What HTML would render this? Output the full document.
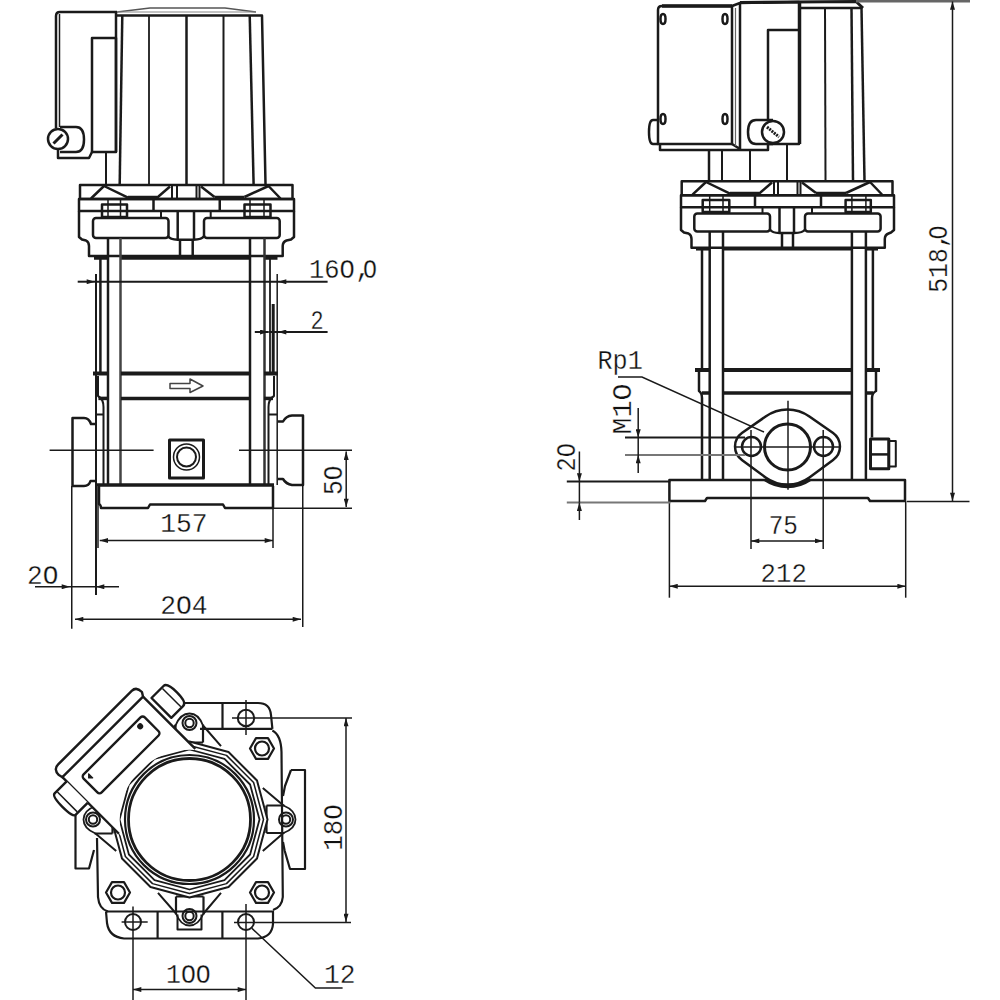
<!DOCTYPE html>
<html><head><meta charset="utf-8">
<style>
html,body{margin:0;padding:0;background:#fff;width:1000px;height:1000px;overflow:hidden}
svg{display:block}
text{font-family:"Liberation Mono",monospace;fill:#111;font-size:27px;stroke:#fff;stroke-width:0.3px}
</style></head><body>
<svg width="1000" height="1000" viewBox="0 0 1000 1000">
<defs>
<marker id="ar" viewBox="0 0 10 6" refX="10" refY="3" markerWidth="9" markerHeight="5" markerUnits="userSpaceOnUse" orient="auto-start-reverse"><path d="M0 0 L10 3 L0 6 z" fill="#1a1a1a"/></marker>
</defs>
<g id="front" fill="none" stroke="#1a1a1a" stroke-width="2.5" stroke-linejoin="round">
<!-- motor cap -->
<path d="M117 12 L150 8 L225 8 L256 12" stroke-width="1.5" stroke="#555"/>
<line x1="117" y1="12" x2="256" y2="12" stroke-width="1.2" stroke="#888"/>
<path d="M116 15.5 L262 15.5 L265.5 184"/>
<line x1="116" y1="12" x2="116" y2="152"/>
<line x1="122.3" y1="15" x2="119.7" y2="184"/>
<line x1="149" y1="15" x2="149" y2="184" stroke-width="1.8"/>
<line x1="186.5" y1="15" x2="186.5" y2="184"/>
<line x1="223.5" y1="15" x2="223.5" y2="184" stroke-width="2"/>
<line x1="249.7" y1="15" x2="253.6" y2="184"/>
<!-- terminal box -->
<path d="M117 12 L60 12 Q56 12 56 16 L56 128"/>
<line x1="59.5" y1="14" x2="59.5" y2="127" stroke-width="1.5"/>
<rect x="92" y="38" width="24" height="114"/>
<path d="M60 127 L76 127 Q84 127 84 139.5 Q84 152 76 152 L60 152"/>
<circle cx="58" cy="139" r="10" fill="#fff"/>
<line x1="53.5" y1="143.5" x2="62.5" y2="134.5" stroke-width="3"/>
<path d="M58 150 L58 158 L89 158 L92 152"/>
<line x1="106" y1="152" x2="106" y2="184" stroke-width="2"/>
<!-- flange -->
<rect x="80" y="185" width="212.5" height="14"/>
<rect x="79" y="199" width="215" height="12"/>
<line x1="153.5" y1="199" x2="153.5" y2="211"/>
<line x1="219.75" y1="199" x2="219.75" y2="211"/>
<path d="M79 211 L79 237 L82 239.5 L86 240.5 Q89 242 89 246 L89 256 L282.7 256 L282.7 246 Q282.7 242 286.5 240.5 L291 239.5 L294 237 L294 211"/>
<path d="M91 198.5 L104 186 L128 197.7"/>
<line x1="128" y1="197.5" x2="157" y2="197.5" stroke-width="3.5"/>
<path d="M157 197.7 L170 186.5"/>
<line x1="172" y1="185" x2="172" y2="199" stroke-width="2"/>
<line x1="177" y1="185" x2="177" y2="199" stroke-width="2"/>
<line x1="196.5" y1="185" x2="196.5" y2="199" stroke-width="2"/>
<line x1="199.5" y1="185" x2="199.5" y2="199" stroke-width="2"/>
<path d="M201 186.5 L214.5 197"/>
<line x1="214.5" y1="197.5" x2="244.5" y2="197.5" stroke-width="3.5"/>
<path d="M244.5 197 L268.5 186 L280.5 198.5"/>
<rect x="102" y="204.5" width="25" height="12.5"/>
<rect x="244.5" y="204.5" width="26" height="12.5"/>
<line x1="108" y1="199" x2="108" y2="217" stroke-width="1.5"/>
<line x1="120.5" y1="199" x2="120.5" y2="217" stroke-width="1.5"/>
<line x1="250" y1="199" x2="250" y2="217" stroke-width="1.5"/>
<line x1="264" y1="199" x2="264" y2="217" stroke-width="1.5"/>
<rect x="93" y="218" width="75.5" height="20" rx="3"/>
<rect x="204" y="218" width="75.7" height="20" rx="3"/>
<line x1="161" y1="211" x2="161" y2="218" stroke-width="2"/>
<line x1="210.7" y1="211" x2="210.7" y2="218" stroke-width="2"/>
<path d="M168 236 Q170 239.7 177.7 239.7 L193.5 239.7 Q202 239.7 204 236"/>
<line x1="177.7" y1="211" x2="177.7" y2="239.7"/>
<line x1="194" y1="211" x2="194" y2="239.7"/>
<line x1="180" y1="239.7" x2="180" y2="256"/>
<line x1="192.7" y1="239.7" x2="192.7" y2="256"/>
<line x1="94" y1="258" x2="108" y2="258" stroke-width="3.5"/>
<line x1="121" y1="258" x2="250" y2="258" stroke-width="3.5"/>
<line x1="264" y1="258" x2="277.5" y2="258" stroke-width="3.5"/>
<!-- tie rods -->
<line x1="108" y1="238" x2="108" y2="485"/>
<line x1="120.5" y1="238" x2="120.5" y2="485" stroke="#444"/>
<line x1="250" y1="238" x2="250" y2="485"/>
<line x1="264.5" y1="238" x2="264.5" y2="485" stroke="#333"/>
<!-- body -->
<line x1="100.4" y1="258" x2="100.4" y2="373"/>
<line x1="96" y1="274" x2="96" y2="595" stroke-width="2"/>
<line x1="270" y1="258" x2="270" y2="373" stroke-width="1.8"/>
<line x1="273.2" y1="304" x2="273.2" y2="373" stroke-width="3"/>
<line x1="277.2" y1="274" x2="277.2" y2="485" stroke-width="1.5"/>
<line x1="93" y1="373.5" x2="108" y2="373.5" stroke-width="4"/>
<line x1="121" y1="373.5" x2="250" y2="373.5" stroke-width="4"/>
<line x1="264" y1="373.5" x2="278" y2="373.5" stroke-width="4"/>
<line x1="98.4" y1="398.4" x2="108" y2="398.4" stroke-width="3.5"/>
<line x1="121" y1="398.4" x2="250" y2="398.4" stroke-width="3.5"/>
<line x1="264" y1="398.4" x2="273" y2="398.4" stroke-width="3.5"/>
<path d="M98 376 L98 396 Q103.5 399 103.5 407 L103.5 414.5 M96 414.5 L103.5 414.5 L103.5 485" stroke-width="2"/>
<path d="M274 376 L274 396 Q268.5 399 268.5 407 L268.5 414.5 M268.5 414.5 L277 414.5 M268.5 414.5 L268.5 485" stroke-width="2"/>
<path d="M170 383.5 L190 383.5 L190 379 L203 386 L190 392.5 L190 388.5 L170 388.5 Z" stroke-width="1.5" stroke="#444"/>
<rect x="169.5" y="440" width="34" height="38" stroke-width="3"/>
<circle cx="186.5" cy="457" r="9.5" stroke-width="2"/>
<circle cx="186.5" cy="457" r="13" stroke-width="1.5"/>
<line x1="96" y1="485" x2="274" y2="485" stroke-width="3.5"/>
<path d="M99 486 L99 504 Q101 505 101 508 L148 508 L150 504.5 L223 504.5 L225 508 L273 508 L273 486"/>
<path d="M95 424 L91 424 Q89 418 84 418 L72.5 418 L72.5 486 L84 486 Q89 486 90.5 481 L95 481"/>
<path d="M278 421.5 L283 421.5 Q286 416 292 415.5 L303 415.5 L303 485 L292 485 Q286 484 283 479 L278 479"/>
</g>
<g id="frontdims" fill="none" stroke="#1a1a1a" stroke-width="1.5">
<line x1="49.6" y1="450.3" x2="153.6" y2="450.3"/>
<line x1="239" y1="450.3" x2="352" y2="450.3"/>
<line x1="77.7" y1="281.7" x2="95" y2="281.7" marker-end="url(#ar)" stroke-width="2"/>
<line x1="95" y1="281.7" x2="278" y2="281.7" stroke-width="2"/>
<line x1="327.6" y1="281.7" x2="278" y2="281.7" marker-end="url(#ar)" stroke-width="2"/>
<line x1="254.8" y1="332" x2="268.4" y2="332" marker-end="url(#ar)" stroke-width="2"/>
<line x1="327.6" y1="332" x2="278" y2="332" marker-end="url(#ar)" stroke-width="2"/>
<line x1="268.4" y1="332" x2="278" y2="332" stroke-width="2"/>
<line x1="346.2" y1="451.6" x2="346.2" y2="507" marker-start="url(#ar)" marker-end="url(#ar)"/>
<line x1="272" y1="508.3" x2="352" y2="508.3"/>
<line x1="98" y1="487" x2="98" y2="548"/>
<line x1="273" y1="508" x2="273" y2="548"/>
<line x1="99.75" y1="540.5" x2="273" y2="540.5" marker-start="url(#ar)" marker-end="url(#ar)"/>
<line x1="35" y1="586.75" x2="70" y2="586.75" marker-end="url(#ar)"/>
<line x1="70" y1="586.75" x2="96" y2="586.75"/>
<line x1="119" y1="586.75" x2="96" y2="586.75" marker-end="url(#ar)"/>
<line x1="71.75" y1="486" x2="71.75" y2="628.75"/>
<line x1="302.75" y1="485" x2="302.75" y2="627"/>
<line x1="75" y1="619.3" x2="301" y2="619.3" marker-start="url(#ar)" marker-end="url(#ar)"/>
</g>

<g id="side" fill="none" stroke="#1a1a1a" stroke-width="2.5" stroke-linejoin="round">
<!-- motor -->
<path d="M740 2.5 L856 1.5 L863 8" stroke-width="3"/>
<line x1="800" y1="8" x2="862" y2="8"/>
<line x1="800" y1="2" x2="800" y2="144"/>
<line x1="825" y1="8" x2="825.5" y2="181" stroke-width="2"/>
<line x1="851.5" y1="8" x2="853" y2="181"/>
<line x1="861.5" y1="8" x2="864.5" y2="181"/>
<!-- terminal box -->
<path d="M658 144 L658 10 Q658 6 662 6 L732 6 L732 144 Z"/>
<line x1="662" y1="6" x2="732" y2="6" stroke-width="3.5"/>
<path d="M732 6 L740 3 L740 149 L732 144"/>
<line x1="735.5" y1="8" x2="735.5" y2="146" stroke-width="1.2" stroke="#666"/>
<path d="M740 3 L799 2 L799 144 L768 144"/>
<path d="M660 144 L660 150 L768 150 L768 144"/>
<path d="M799 30 L768 30 L768 120"/>
<path d="M773 120 L756 120 Q748 120 748 132 Q748 144 756 144 L773 144"/>
<circle cx="773" cy="132" r="11" fill="#fff"/>
<line x1="767" y1="127" x2="779" y2="137" stroke-width="3" stroke-dasharray="2 1"/>
<path d="M658 120 L653 120 Q649 120 649 132 Q649 144 653 144 L658 144"/>
<ellipse cx="663" cy="19" rx="2.5" ry="5"/>
<ellipse cx="725" cy="19" rx="2.5" ry="5"/>
<ellipse cx="663" cy="119" rx="2.5" ry="5"/>
<ellipse cx="725" cy="119" rx="2.5" ry="5"/>
<line x1="709" y1="150" x2="709" y2="181"/>
<line x1="722" y1="150" x2="722" y2="181" stroke-width="2"/>
<line x1="750" y1="150" x2="750" y2="181" stroke-width="2"/>
<line x1="787" y1="144" x2="787" y2="181" stroke-width="2"/>
<!-- flange -->
<rect x="681.7" y="181.2" width="210.8" height="14"/>
<rect x="681" y="195.2" width="213" height="12"/>
<line x1="755" y1="195.2" x2="755" y2="207.2"/>
<line x1="821" y1="195.2" x2="821" y2="207.2"/>
<path d="M681 207.2 L681 230 L684 232.5 L688.5 233.5 Q691.5 235 691.5 239 L691.5 247.7 L884.8 247.7 L884.8 239 Q884.8 235 888.5 233.5 L891 232.5 L894 230 L894 207.2"/>
<path d="M692.5 194.7 L706 182 L730 193.7"/>
<line x1="730" y1="193.5" x2="759" y2="193.5" stroke-width="3.5"/>
<path d="M759 193.7 L772 182.5"/>
<line x1="774" y1="181" x2="774" y2="195" stroke-width="2"/>
<line x1="778" y1="181" x2="778" y2="195" stroke-width="2"/>
<line x1="797.5" y1="181" x2="797.5" y2="195" stroke-width="2"/>
<line x1="800.5" y1="181" x2="800.5" y2="195" stroke-width="2"/>
<path d="M802 182.5 L816 193"/>
<line x1="816" y1="193.5" x2="846" y2="193.5" stroke-width="3.5"/>
<path d="M846 193 L870 182 L882 194.5"/>
<rect x="702.7" y="200" width="26.6" height="12"/>
<rect x="845.6" y="200" width="25.2" height="12"/>
<line x1="709.7" y1="195" x2="709.7" y2="212" stroke-width="1.5"/>
<line x1="723" y1="195" x2="723" y2="212" stroke-width="1.5"/>
<line x1="851.9" y1="195" x2="851.9" y2="212" stroke-width="1.5"/>
<line x1="865.9" y1="195" x2="865.9" y2="212" stroke-width="1.5"/>
<rect x="694.3" y="213.4" width="75.7" height="18.2" rx="3"/>
<rect x="805" y="213.4" width="75.6" height="18.2" rx="3"/>
<line x1="762.5" y1="207" x2="762.5" y2="213.4" stroke-width="2"/>
<line x1="812" y1="207" x2="812" y2="213.4" stroke-width="2"/>
<path d="M770 229.5 Q772 233 779.5 233 L794 233 Q803 233 805 229.5"/>
<line x1="779.5" y1="207.2" x2="779.5" y2="233"/>
<line x1="794" y1="207.2" x2="794" y2="233"/>
<line x1="782" y1="233" x2="782" y2="247.7"/>
<line x1="793" y1="233" x2="793" y2="247.7"/>
<line x1="696" y1="248.8" x2="709.7" y2="248.8" stroke-width="3.5"/>
<line x1="723" y1="248.8" x2="851.9" y2="248.8" stroke-width="3.5"/>
<line x1="865.9" y1="248.8" x2="878" y2="248.8" stroke-width="3.5"/>
<!-- body -->
<line x1="709.7" y1="231.6" x2="709.7" y2="480"/>
<line x1="723" y1="231.6" x2="723" y2="480"/>
<line x1="851.9" y1="231.6" x2="851.9" y2="480"/>
<line x1="865.9" y1="231.6" x2="865.9" y2="480"/>
<line x1="702" y1="249" x2="702" y2="370"/>
<line x1="872.9" y1="249" x2="872.9" y2="370"/>
<line x1="695" y1="370" x2="709.7" y2="370" stroke-width="4"/>
<line x1="723" y1="370" x2="851.9" y2="370" stroke-width="4"/>
<line x1="865.9" y1="370" x2="880" y2="370" stroke-width="4"/>
<line x1="702" y1="393" x2="709.7" y2="393" stroke-width="3.5"/>
<line x1="723" y1="393" x2="851.9" y2="393" stroke-width="3.5"/>
<line x1="865.9" y1="393" x2="873" y2="393" stroke-width="3.5"/>
<path d="M699 372 L699 391 Q702 393 702 398 L702 480" stroke-width="2.5"/>
<path d="M876 372 L876 391 Q872 393 872 398 L872 437.5" stroke-width="2.5"/>
<!-- base -->
<path d="M669.4 480 L905 480 L905 501 L870 501 L868 498 L707 498 L705 501 L669.4 501 Z"/>
<!-- drain plug -->
<rect x="870.5" y="439" width="18.3" height="29.8" stroke-width="3"/>
<line x1="870.5" y1="454.4" x2="888.8" y2="454.4" stroke-width="2.5"/>
<rect x="888.8" y="441" width="7" height="25.4" stroke-width="2"/>
<!-- oval flange -->
<path d="M741.9 433.1 L765.6 416.5 A37.5 37.5 0 0 1 809.4 416.5 L833.1 433.1 A16.5 16.5 0 0 1 833.1 459.9 L809.4 477.5 A37.5 37.5 0 0 1 765.6 477.5 L741.9 459.9 A16.5 16.5 0 0 1 741.9 433.1 Z" fill="#fff"/>
<path d="M765 479.5 A40 40 0 0 0 810 479.5" stroke-width="3.5"/>
<circle cx="787.5" cy="447" r="23" stroke-width="3"/>
<circle cx="751.5" cy="446.5" r="9.5"/>
<circle cx="823.5" cy="446.5" r="9.5"/>
</g>
<g id="sidedims" fill="none" stroke="#1a1a1a" stroke-width="1.5">
<line x1="735" y1="447" x2="840" y2="447"/>
<line x1="788" y1="400.7" x2="788" y2="489.8"/>
<line x1="751" y1="430" x2="751" y2="549"/>
<line x1="823.2" y1="430" x2="823.2" y2="549"/>
<line x1="751" y1="540.9" x2="823.2" y2="540.9" marker-start="url(#ar)" marker-end="url(#ar)"/>
<line x1="669.4" y1="501" x2="669.4" y2="597.7"/>
<line x1="905.7" y1="501" x2="905.7" y2="597.7"/>
<line x1="669.4" y1="586.3" x2="905.7" y2="586.3" marker-start="url(#ar)" marker-end="url(#ar)"/>
<line x1="856" y1="1.2" x2="970" y2="1.2" stroke="#666" stroke-width="2.6"/>
<line x1="907" y1="501.5" x2="969.5" y2="501.5"/>
<line x1="952.5" y1="1.5" x2="952.5" y2="501" marker-start="url(#ar)" marker-end="url(#ar)"/>
<line x1="566.8" y1="481.6" x2="670.4" y2="481.6" stroke-width="2"/>
<line x1="566.8" y1="502.6" x2="670.4" y2="502.6" stroke="#777" stroke-width="2"/>
<line x1="579.4" y1="451.5" x2="579.4" y2="481.6" marker-end="url(#ar)"/>
<line x1="579.4" y1="520" x2="579.4" y2="502.6" marker-end="url(#ar)"/>
<line x1="579.4" y1="481.6" x2="579.4" y2="502.6"/>
<line x1="625" y1="437.5" x2="745" y2="437.5" stroke-width="2"/>
<line x1="625" y1="455" x2="745" y2="455" stroke="#777" stroke-width="2"/>
<line x1="638.2" y1="408" x2="638.2" y2="437.5" marker-end="url(#ar)"/>
<line x1="638.2" y1="473" x2="638.2" y2="455" marker-end="url(#ar)"/>
<line x1="638.2" y1="437.5" x2="638.2" y2="455"/>
<path d="M618 377 L642 377 L764 432"/>
</g>

<g id="bottom" fill="none" stroke="#1a1a1a" stroke-width="2.2" stroke-linejoin="round">
<path d="M184 703 L258 703 Q270 703 271 715 L272.4 728.8"/>
<line x1="200" y1="728.8" x2="272.4" y2="728.8"/>
<line x1="222.5" y1="703" x2="222.5" y2="728.8"/>
<path d="M272.4 730.5 Q281 735 281.5 752 L282.8 897 Q282 907 273 910"/>
<path d="M97 838 L98 897 Q99 909 108 911.5"/>
<path d="M106 911.5 L273 911.5 L273 924 Q272 937 258 938.5 L124 938.5 Q109 937 107 923 L106 911.5"/>
<line x1="157.6" y1="911.5" x2="157.6" y2="938.5"/>
<line x1="222.4" y1="911.5" x2="222.4" y2="938.5"/>
<path d="M291 770 L305 770 L305 869 L290 869 L284.6 850.5 L283 842 M291 770 L285 786 L283 796"/>
<path d="M75.5 815 L75.5 868.5 L89 868.5 L94 850"/>
<polygon points="274.0,748.5 268.0,758.9 256.0,758.9 250.0,748.5 256.0,738.1 268.0,738.1"/><circle cx="262" cy="748.5" r="7"/>
<polygon points="274.0,892.5 268.0,902.9 256.0,902.9 250.0,892.5 256.0,882.1 268.0,882.1"/><circle cx="262" cy="892.5" r="7"/>
<polygon points="130.0,892.5 124.0,902.9 112.0,902.9 106.0,892.5 112.0,882.1 124.0,882.1"/><circle cx="118" cy="892.5" r="7"/>

<g transform="translate(189.5,819.5) rotate(180)">
<path d="M77 -14 L95 -14 M77 13.5 L95 13.5 M77 -14 L77 13.5"/>
<path d="M73.3 -31.5 L94 -14 M73.3 31.5 L94 13.5" stroke-width="2"/>
<path d="M94 -14 Q106 -9 106 0 Q106 9 94 13.5" stroke-width="1.8"/>
<circle cx="96.5" cy="0" r="7" stroke-width="2"/>
<circle cx="96.5" cy="0" r="4.2" stroke-width="2"/></g>
<g transform="translate(189.5,819.5) rotate(-90)">
<path d="M77 -14 L95 -14 M77 13.5 L95 13.5 M77 -14 L77 13.5"/>
<path d="M73.3 -31.5 L94 -14 M73.3 31.5 L94 13.5" stroke-width="2"/>
<path d="M94 -14 Q106 -9 106 0 Q106 9 94 13.5" stroke-width="1.8"/>
<circle cx="96.5" cy="0" r="7" stroke-width="2"/>
<circle cx="96.5" cy="0" r="4.2" stroke-width="2"/></g>
<g transform="translate(189.5,819.5) rotate(90)">
<path d="M77 -14 L95 -14 M77 13.5 L95 13.5 M77 -14 L77 13.5"/>
<path d="M73.3 -31.5 L94 -14 M73.3 31.5 L94 13.5" stroke-width="2"/>
<path d="M94 -14 Q106 -9 106 0 Q106 9 94 13.5" stroke-width="1.8"/>
<circle cx="96.5" cy="0" r="7" stroke-width="2"/>
<circle cx="96.5" cy="0" r="4.2" stroke-width="2"/><path d="M95 -12 L110 -12 L110 12 L95 12" stroke-width="2"/></g>
<g transform="translate(189.5,819.5) rotate(0)">
<path d="M77 -14 L95 -14 M77 13.5 L95 13.5 M77 -14 L77 13.5"/>
<path d="M73.3 -31.5 L94 -14 M73.3 31.5 L94 13.5" stroke-width="2"/>
<path d="M94 -14 Q106 -9 106 0 Q106 9 94 13.5" stroke-width="1.8"/>
<circle cx="96.5" cy="0" r="7" stroke-width="2"/>
<circle cx="96.5" cy="0" r="4.2" stroke-width="2"/></g>
</g>
<g id="ring12" fill="none" stroke="#1a1a1a" stroke-linejoin="round">
<polygon points="189.5,897.5 228.5,887.0 257.0,858.5 267.5,819.5 257.0,780.5 228.5,752.0 189.5,741.5 150.5,752.0 122.0,780.5 111.5,819.5 122.0,858.5 150.5,887.0" fill="#fff" stroke-width="2"/>
<polygon points="189.5,893.5 226.5,883.6 253.6,856.5 263.5,819.5 253.6,782.5 226.5,755.4 189.5,745.5 152.5,755.4 125.4,782.5 115.5,819.5 125.4,856.5 152.5,883.6" stroke-width="1.5"/>
<polygon points="189.5,889.5 224.5,880.1 250.1,854.5 259.5,819.5 250.1,784.5 224.5,758.9 189.5,749.5 154.5,758.9 128.9,784.5 119.5,819.5 128.9,854.5 154.5,880.1" stroke-width="1.8"/>
</g>
<g fill="none" stroke="#1a1a1a" stroke-width="2.4" stroke-linejoin="round" transform="translate(62.4,777.2) rotate(-45)">
<path d="M0 0 L114 0 L114 75.5 A70 70 0 0 0 0 84 Z" fill="#fff" stroke="none"/>
<line x1="0" y1="0" x2="0" y2="80"/>
<line x1="114" y1="0" x2="114" y2="74"/>
<path d="M0 0 L-1 -4 Q-1 -12 6 -12 L110 -12 Q116.5 -12 116.5 -4 L114 0 Z" fill="#fff"/>
<rect x="14" y="13" width="86.5" height="25.5" rx="3"/>
<circle cx="91" cy="19" r="1.8" fill="#1a1a1a"/>
<path d="M18 19 L21 16 L21 22 Z" fill="#1a1a1a" stroke-width="1"/>
<path d="M119 7 L136 7 Q141 7 141 21 Q141 35 136 35 L119 35 Z" fill="#fff"/>
<line x1="133.5" y1="8" x2="133.5" y2="34" stroke-width="1.5"/>
<path d="M0 6 L-17 6 Q-21 6 -21 21 Q-21 36 -17 36 L0 36" fill="#fff"/>
<line x1="-14" y1="7" x2="-14" y2="35" stroke-width="1.5"/>
</g>
<g id="ring" fill="none" stroke="#1a1a1a" stroke-linejoin="round">
<circle cx="189.5" cy="819.5" r="64.5" stroke-width="2.2"/>
<circle cx="189.5" cy="819.5" r="61" stroke-width="2.8"/>
</g>
<g id="bottomdims" fill="none" stroke="#1a1a1a" stroke-width="1.5">
<circle cx="246" cy="718" r="8.2" stroke-width="2"/>
<circle cx="246" cy="922" r="8" stroke-width="2"/>
<circle cx="133" cy="922" r="8" stroke-width="2"/>
<line x1="232" y1="718" x2="352" y2="718"/>
<line x1="246" y1="700" x2="246" y2="735"/>
<line x1="234" y1="922.4" x2="351" y2="922.4"/>
<line x1="246" y1="904" x2="246" y2="1000"/>
<line x1="121.6" y1="922" x2="147.7" y2="922"/>
<line x1="133" y1="906.6" x2="133" y2="1000"/>
<line x1="346" y1="718" x2="346" y2="922" marker-start="url(#ar)" marker-end="url(#ar)"/>
<line x1="133" y1="989.6" x2="246" y2="989.6" marker-start="url(#ar)" marker-end="url(#ar)"/>
<path d="M252 928.4 L315.4 988 L342.6 988"/>
</g>
<g id="texts">
<text x="309.0" y="277.5" font-size="26.94" textLength="45.81" lengthAdjust="spacingAndGlyphs">16O</text>
<text x="355.0" y="277.0" font-size="19.00">,</text>
<text x="363.0" y="277.5" font-size="26.94" textLength="13.98" lengthAdjust="spacingAndGlyphs">O</text>
<text x="310.5" y="329.0" font-size="26.94" textLength="13.11" lengthAdjust="spacingAndGlyphs">2</text>
<text x="160.2" y="532.0" font-size="27.70" textLength="47.31" lengthAdjust="spacingAndGlyphs">157</text>
<text x="27.0" y="584.0" font-size="28.81" textLength="31.31" lengthAdjust="spacingAndGlyphs">2O</text>
<text x="160.2" y="614.0" font-size="27.64" textLength="47.42" lengthAdjust="spacingAndGlyphs">2O4</text>
<text transform="translate(342.0,495.0) rotate(-90)" font-size="28.22" textLength="29.41" lengthAdjust="spacingAndGlyphs">5O</text>
<text x="597.5" y="369.0" font-size="27.39" textLength="45.29" lengthAdjust="spacingAndGlyphs">Rp1</text>
<text transform="translate(630.5,434.5) rotate(-90)" font-size="27.70" textLength="51.13" lengthAdjust="spacingAndGlyphs">M1O</text>
<text transform="translate(575.2,471.4) rotate(-90)" font-size="26.91" textLength="28.30" lengthAdjust="spacingAndGlyphs">2O</text>
<text transform="translate(947.0,292.8) rotate(-90)" font-size="29.20" textLength="44.60" lengthAdjust="spacingAndGlyphs">518</text>
<text transform="translate(945.0,248.5) rotate(-90)" font-size="19.00">,</text>
<text transform="translate(947.0,239.4) rotate(-90)" font-size="29.20" textLength="13.98" lengthAdjust="spacingAndGlyphs">O</text>
<text x="768.7" y="534.4" font-size="28.81" textLength="29.21" lengthAdjust="spacingAndGlyphs">75</text>
<text x="760.6" y="581.7" font-size="28.43" textLength="46.22" lengthAdjust="spacingAndGlyphs">212</text>
<text x="166.0" y="983.0" font-size="27.70" textLength="44.74" lengthAdjust="spacingAndGlyphs">1OO</text>
<text x="324.0" y="983.0" font-size="27.70" textLength="31.43" lengthAdjust="spacingAndGlyphs">12</text>
<text transform="translate(342.0,850.7) rotate(-90)" font-size="27.64" textLength="46.36" lengthAdjust="spacingAndGlyphs">18O</text>
</g>
</svg>
</body></html>
